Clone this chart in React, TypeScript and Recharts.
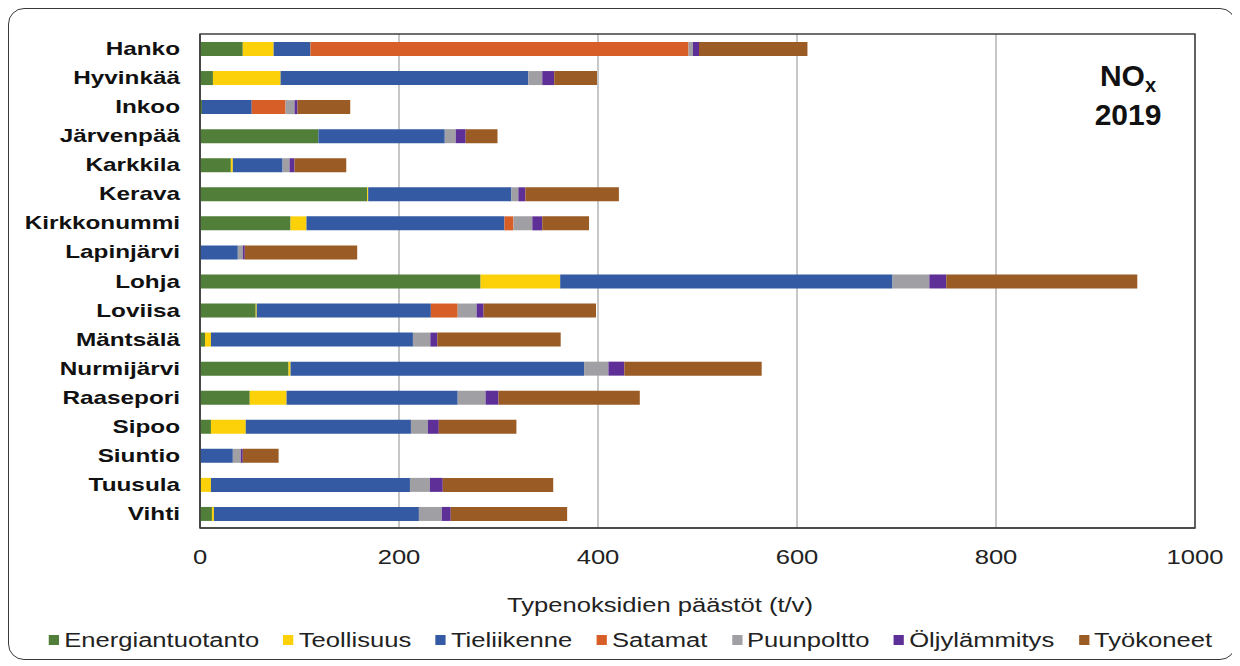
import React from 'react';
import { BarChart, Bar, XAxis, YAxis, CartesianGrid, Legend, ReferenceArea, Label } from 'recharts';

const categories = ['Hanko', 'Hyvinkää', 'Inkoo', 'Järvenpää', 'Karkkila', 'Kerava', 'Kirkkonummi', 'Lapinjärvi', 'Lohja', 'Loviisa', 'Mäntsälä', 'Nurmijärvi', 'Raasepori', 'Sipoo', 'Siuntio', 'Tuusula', 'Vihti'];
const energiantuotanto = [43, 13, 2, 119, 31, 168, 91, 0, 282, 56, 5, 89, 50, 11, 0, 1, 12];
const teollisuus = [31, 68, 0, 0, 2, 1, 16, 0, 80, 1, 6, 2, 37, 35, 0, 10, 2];
const tieliikenne = [37, 249, 50, 127, 50, 144, 199, 38, 334, 175, 203, 295, 172, 166, 33, 200, 206];
const satamat = [380, 0, 34, 0, 0, 0, 9, 0, 0, 27, 0, 0, 0, 0, 0, 0, 0];
const puunpoltto = [4.5, 14, 9, 11, 7, 7, 19, 5, 37, 19, 17.5, 24.5, 28, 17, 8, 20, 23];
const oljylammitys = [6, 12, 3, 10, 5, 7, 10, 2, 17, 7, 7, 16, 13, 11, 2, 13, 9];
const tyokoneet = [109, 43, 53, 32, 52, 94, 47, 113, 192, 113, 124, 138, 142, 78, 36, 111, 117];
const xTicks = [0, 200, 400, 600, 800, 1000];

const seriesDefs = [
  { key: 'Energiantuotanto', values: energiantuotanto, color: '#517e38' },
  { key: 'Teollisuus', values: teollisuus, color: '#fcd10a' },
  { key: 'Tieliikenne', values: tieliikenne, color: '#345aa4' },
  { key: 'Satamat', values: satamat, color: '#d75e27' },
  { key: 'Puunpoltto', values: puunpoltto, color: '#a0a0a4' },
  { key: 'Öljylämmitys', values: oljylammitys, color: '#5d2f97' },
  { key: 'Työkoneet', values: tyokoneet, color: '#9a5b24' },
];

const data = categories.map((name, i) => {
  const row: Record<string, any> = { name };
  seriesDefs.forEach((s) => { row[s.key] = s.values[i]; });
  return row;
});

const FONT = '"Liberation Sans", Arial, sans-serif';
const SX = 1.28;

const YTick = (props: any) => {
  const { x, y, payload } = props;
  return (
    <g transform={`translate(${x},${y})`}>
      <text transform={`scale(${SX},1)`} textAnchor="end" dominantBaseline="central" fontFamily={FONT} fontWeight="bold" fontSize={19} fill="#111">
        {payload.value}
      </text>
    </g>
  );
};

const XTick = (props: any) => {
  const { x, y, payload } = props;
  return (
    <g transform={`translate(${x},${y + 2})`}>
      <text transform={`scale(${SX},1)`} textAnchor="middle" dominantBaseline="central" fontFamily={FONT} fontSize={20} fill="#222">
        {payload.value}
      </text>
    </g>
  );
};

const AxisTitle = (props: any) => {
  const vb = props.viewBox || { y: 520 };
  return (
    <g transform={`translate(652,${vb.y + 77})`}>
      <text transform={`scale(${SX},1)`} textAnchor="middle" dominantBaseline="central" fontFamily={FONT} fontSize={20} fill="#222">
        Typenoksidien päästöt (t/v)
      </text>
    </g>
  );
};

const renderLegend = () => {
  return (
    <div style={{ width: 1228, height: 30, display: 'flex', justifyContent: 'center', alignItems: 'center' }}>
      <div style={{ display: 'flex', alignItems: 'center', transform: `translateX(8px) scaleX(${SX})`, transformOrigin: 'center', fontFamily: FONT, fontSize: 20, color: '#222', whiteSpace: 'nowrap' }}>
        {seriesDefs.map((s, i) => (
          <div key={s.key} style={{ display: 'flex', alignItems: 'center', marginRight: i < seriesDefs.length - 1 ? 19 : 0 }}>
            <span style={{ display: 'inline-block', width: 8, height: 10, background: s.color, marginRight: 4 }} />
            <span>{s.key}</span>
          </div>
        ))}
      </div>
    </div>
  );
};

export default function App() {
  return (
    <div style={{ position: 'relative', width: 1228, height: 652 }}>
      <BarChart
        width={1228}
        height={652}
        layout="vertical"
        data={data}
        margin={{ top: 26, right: 41, left: 0, bottom: 5 }}
        barSize={14}
      >
        <CartesianGrid horizontal={false} vertical={true} stroke="#b4b4b4" strokeWidth={1.5} />
        <XAxis
          type="number"
          domain={[0, 1000]}
          ticks={xTicks}
          interval={0}
          height={97}
          tickSize={0}
          tickMargin={27}
          tick={<XTick />}
          axisLine={{ stroke: '#404040', strokeWidth: 1.5 }}
          tickLine={false}
        >
          <Label content={<AxisTitle />} />
        </XAxis>
        <YAxis
          type="category"
          dataKey="name"
          width={192}
          tickSize={0}
          tickMargin={20}
          interval={0}
          tick={<YTick />}
          axisLine={{ stroke: '#404040', strokeWidth: 1.5 }}
          tickLine={false}
        />
        {seriesDefs.map((s) => (
          <Bar key={s.key} dataKey={s.key} stackId="a" fill={s.color} isAnimationActive={false} />
        ))}
        <ReferenceArea x1={0} x2={1000} fill="none" fillOpacity={0} stroke="#404040" strokeWidth={1.5} />
        <Legend verticalAlign="bottom" content={renderLegend} wrapperStyle={{ left: 0, width: 1228 }} />
      </BarChart>
      <div style={{ position: 'absolute', left: 1060, top: 50, width: 120, textAlign: 'center', fontFamily: FONT, fontWeight: 'bold', fontSize: 30, lineHeight: '36px', color: '#111', pointerEvents: 'none' }}>
        <div>NO<span style={{ fontSize: 20, position: 'relative', top: 6 }}>x</span></div>
        <div>2019</div>
      </div>
      <div style={{ position: 'absolute', left: 0, top: 0, width: 1228, height: 652, boxSizing: 'border-box', border: '1.5px solid #3a3a3a', borderRadius: 16, pointerEvents: 'none' }} />
    </div>
  );
}
